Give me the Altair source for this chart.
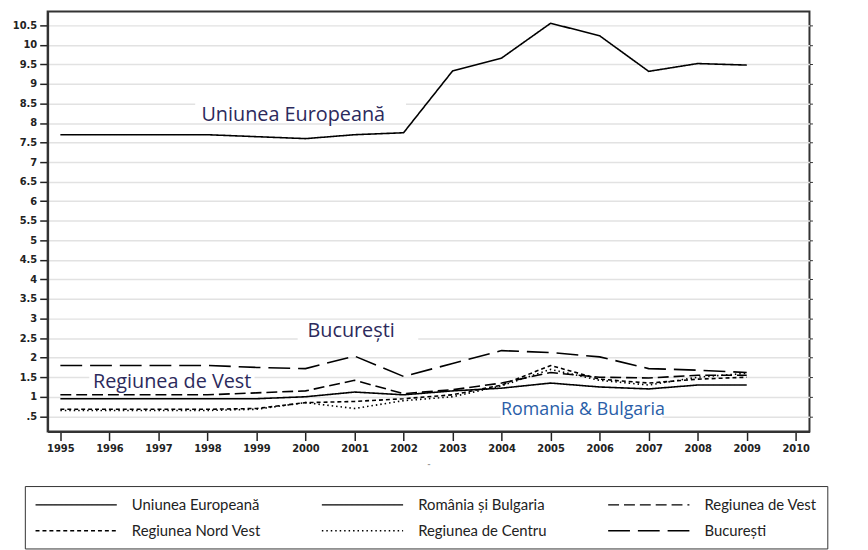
import altair as alt
import pandas as pd

# ---- data ----
years = list(range(1995, 2010))
uniunea_europeana = [7.7, 7.7, 7.7, 7.7, 7.65, 7.6, 7.7, 7.75, 9.33, 9.66, 10.55, 10.23, 9.32, 9.52, 9.48]
romania_bulgaria = [0.95, 0.95, 0.95, 0.95, 0.95, 1.0, 1.12, 1.05, 1.15, 1.22, 1.35, 1.25, 1.2, 1.3, 1.3]
regiunea_vest = [1.05, 1.05, 1.05, 1.05, 1.1, 1.15, 1.42, 1.08, 1.18, 1.35, 1.62, 1.5, 1.48, 1.55, 1.55]
regiunea_nord_vest = [0.68, 0.68, 0.68, 0.68, 0.7, 0.85, 0.88, 0.95, 1.05, 1.3, 1.8, 1.45, 1.35, 1.45, 1.5]
regiunea_centru = [0.65, 0.65, 0.65, 0.65, 0.68, 0.85, 0.7, 0.9, 1.0, 1.28, 1.7, 1.42, 1.3, 1.5, 1.6]
bucuresti = [1.8, 1.8, 1.8, 1.8, 1.75, 1.72, 2.04, 1.52, 1.85, 2.18, 2.13, 2.02, 1.72, 1.68, 1.62]

series_names = ["Uniunea Europeană", "România și Bulgaria", "Regiunea de Vest",
                "Regiunea Nord Vest", "Regiunea de Centru", "București"]
series_values = [uniunea_europeana, romania_bulgaria, regiunea_vest,
                 regiunea_nord_vest, regiunea_centru, bucuresti]
dash_patterns = [[1, 0], [1, 0], [11, 5], [4, 3], [1.5, 3], [22, 8]]

x_ticks = list(range(1995, 2011))
y_ticks = [0.5 * i for i in range(1, 22)]

# in-chart annotations
note_texts = ["Uniunea Europeană", "București", "Regiunea de Vest", "Romania & Bulgaria"]
note_x = [1999.75, 2000.93, 1997.28, 2005.66]
note_y = [8.21, 2.69, 1.38, 0.67]
note_size = [20, 20, 20, 18]
note_color = ["#2c2a5c", "#2c2a5c", "#2c2a5c", "#2a5ea8"]
# white boxes behind annotations (hide gridlines)
box_x1 = [1997.75, 1999.84, 1995.59, 2003.98]
box_x2 = [2002.05, 2002.30, 1998.96, 2007.28]
box_y1 = [8.08, 2.38, 1.26, 0.45]
box_y2 = [8.58, 2.62, 1.62, 0.88]

rows = []
for name, vals in zip(series_names, series_values):
    for yr, v in zip(years, vals):
        rows.append({"An": yr, "Valoare": v, "Serie": name})
df = pd.DataFrame(rows)

notes = pd.DataFrame({"text": note_texts, "x": note_x, "y": note_y,
                      "size": note_size, "color": note_color})
boxes = pd.DataFrame({"x1": box_x1, "x2": box_x2, "y1": box_y1, "y2": box_y2})

x_scale = alt.Scale(domain=[1994.74, 2010.28], nice=False, zero=False)
y_scale = alt.Scale(domain=[0.11, 10.85], nice=False, zero=False)

tick_font = "DejaVu Sans"

lines = alt.Chart(df).mark_line(strokeWidth=1.6, color="black").encode(
    x=alt.X("An:Q", scale=x_scale,
            axis=alt.Axis(values=x_ticks, format="d", title="-", titleFontSize=9,
                          titleColor="#999", titlePadding=6, grid=False,
                          tickSize=9, tickColor="#222", tickWidth=1.5,
                          labelPadding=3, labelFont=tick_font, labelFontSize=10,
                          labelFontWeight="bold", labelColor="#222",
                          domainColor="#333", domainWidth=2, labelFlush=False)),
    y=alt.Y("Valoare:Q", scale=y_scale,
            axis=alt.Axis(values=y_ticks, title=None, grid=True, gridColor="#e2e2e2",
                          gridWidth=1.5, tickSize=8, tickColor="#222", tickWidth=1.5,
                          labelPadding=3, labelFont=tick_font, labelFontSize=10,
                          labelFontWeight="bold", labelColor="#222",
                          labelExpr="datum.value == 0.5 ? '.5' : format(datum.value, '~g')",
                          domainColor="#333", domainWidth=2, labelFlush=False)),
    strokeDash=alt.StrokeDash(
        "Serie:N",
        scale=alt.Scale(domain=series_names, range=dash_patterns),
        sort=series_names,
        legend=alt.Legend(
            title=None, orient="none", legendX=-23, legendY=479,
            direction="horizontal", columns=3, gridAlign="all",
            symbolType="M-1,0H9", symbolSize=269, symbolStrokeColor="black",
            symbolStrokeWidth=1.5, symbolFillColor="transparent",
            labelFont="Lato", labelFontSize=15, labelColor="#222",
            labelOffset=80, labelLimit=400, columnPadding=57, rowPadding=9,
            strokeColor="#333", padding=10,
        ),
    ),
)

masks = alt.Chart(boxes).mark_rect(color="white").encode(
    x=alt.X("x1:Q", scale=x_scale, axis=None),
    x2="x2:Q",
    y=alt.Y("y1:Q", scale=y_scale, axis=None),
    y2="y2:Q",
)

texts = alt.Chart(notes).mark_text(font="Open Sans", align="center", baseline="middle").encode(
    x=alt.X("x:Q", scale=x_scale, axis=None),
    y=alt.Y("y:Q", scale=y_scale,
            axis=alt.Axis(orient="right", values=y_ticks, labels=False, title=None,
                          grid=False, domain=False, tickSize=3, tickColor="#333")),
    text="text:N",
    size=alt.Size("size:Q", scale=None, legend=None),
    color=alt.Color("color:N", scale=None, legend=None),
)

chart = alt.layer(lines, masks, texts).resolve_axis(
    x="independent", y="independent"
).properties(
    width=769, height=424,
    autosize=alt.AutoSizeParams(type="none"),
    padding={"left": 40, "top": 1, "right": 51, "bottom": 117},
).configure_view(stroke="#333", strokeWidth=2)

chart.save("out.html", embed_options={"renderer": "svg", "actions": False})
